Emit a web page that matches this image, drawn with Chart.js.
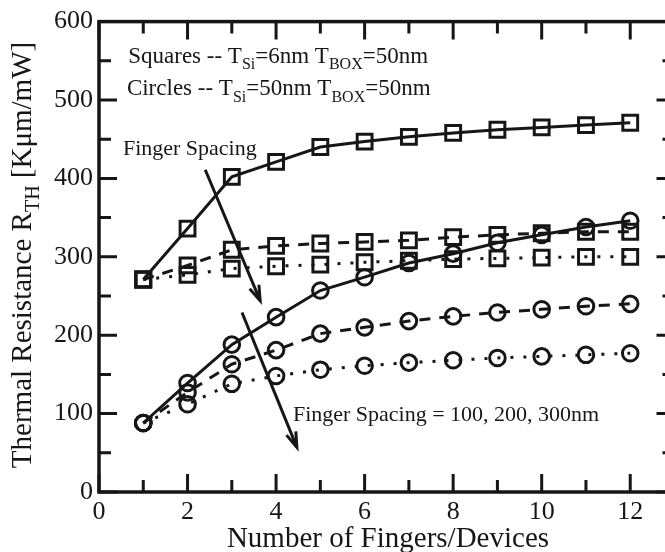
<!DOCTYPE html>
<html>
<head>
<meta charset="utf-8">
<script src="https://cdn.jsdelivr.net/npm/chart.js@4.4.1/dist/chart.umd.min.js"></script>
<style>
  html, body { margin: 0; padding: 0; background: #fff; overflow: hidden; }
  #wrap { width: 665px; height: 552px; overflow: hidden; position: relative; }
  #c { position: absolute; left: 0; top: 0; }
</style>
</head>
<body>
<div id="wrap"><canvas id="c" width="688" height="552"></canvas></div>
<script>
// Number of fingers / devices
const fingers = [1, 2, 3, 4, 5, 6, 7, 8, 9, 10, 11, 12];

// Thermal resistance [K·um/mW], squares: T_Si = 6nm, T_BOX = 50nm
const sq100 = [271, 336, 402, 421, 440, 447, 453, 458, 462, 465, 468, 471];
const sq200 = [271, 289, 309, 314, 317, 319, 321, 325, 328, 330, 332, 332];
const sq300 = [271, 277, 285, 288, 290, 293, 295, 297, 298, 299, 300, 300];

// circles: T_Si = 50nm, T_BOX = 50nm
const ci100 = [88, 139, 188, 223, 257, 274, 292, 304, 318, 328, 338, 346];
const ci200 = [88, 127, 163, 181, 202, 210, 218, 224, 229, 233, 237, 240];
const ci300 = [88, 112, 138, 148, 156, 161, 165, 168, 171, 173, 175, 177];

// axis ticks
const xMajorTicks = [0, 2, 4, 6, 8, 10, 12];
const xMinorTicks = [1, 3, 5, 7, 9, 11, 13];
const yMajorTicks = [0, 100, 200, 300, 400, 500, 600];
const yMinorTicks = [50, 150, 250, 350, 450, 550];

const INK = '#161616';
const SERIF = "'Liberation Serif', 'Times New Roman', serif";

const pts = (ys) => fingers.map((x, i) => ({ x: x, y: ys[i] }));

function series(ys, marker, dash) {
  return {
    data: pts(ys),
    borderColor: INK,
    borderWidth: 3,
    borderDash: dash,
    backgroundColor: 'rgba(0,0,0,0)',
    pointStyle: marker,
    pointRadius: marker === 'rect' ? 10.5 : 7.8,
    pointBorderWidth: 3,
    pointBorderColor: INK,
    pointBackgroundColor: 'rgba(0,0,0,0)',
    tension: 0,
    fill: false
  };
}

// text with subscripts: parts = [[text, isSub], ...]
function drawRich(ctx, parts, x, y, size) {
  let cx = x;
  for (const [txt, sub] of parts) {
    const s = sub ? Math.round(size * 0.7) : size;
    ctx.font = s + 'px ' + SERIF;
    ctx.fillText(txt, cx, sub ? y + size * 0.27 : y);
    cx += ctx.measureText(txt).width;
  }
}

function richWidth(ctx, parts, size) {
  let w = 0;
  for (const [txt, sub] of parts) {
    ctx.font = (sub ? Math.round(size * 0.7) : size) + 'px ' + SERIF;
    w += ctx.measureText(txt).width;
  }
  return w;
}

function arrow(ctx, x1, y1, x2, y2) {
  ctx.beginPath();
  ctx.moveTo(x1, y1);
  ctx.lineTo(x2, y2);
  ctx.stroke();
  const a = Math.atan2(y2 - y1, x2 - x1);
  const L = 16, w = 0.32;
  ctx.beginPath();
  ctx.moveTo(x2 - L * Math.cos(a - w), y2 - L * Math.sin(a - w));
  ctx.lineTo(x2, y2);
  ctx.lineTo(x2 - L * Math.cos(a + w), y2 - L * Math.sin(a + w));
  ctx.stroke();
}

const framePlugin = {
  id: 'frame',
  afterDatasetsDraw(chart) {
    const { ctx, chartArea: a, scales } = chart;
    const xs = scales.x, ys = scales.y;
    ctx.save();
    ctx.strokeStyle = INK;
    ctx.fillStyle = INK;
    ctx.lineCap = 'butt';

    // frame
    ctx.lineWidth = 3.5;
    ctx.strokeRect(a.left, a.top, a.right - a.left, a.bottom - a.top);

    // inward ticks on all four sides
    ctx.lineWidth = 3;
    const tickX = (v, len) => {
      const px = xs.getPixelForValue(v);
      ctx.beginPath();
      ctx.moveTo(px, a.bottom); ctx.lineTo(px, a.bottom - len);
      ctx.moveTo(px, a.top); ctx.lineTo(px, a.top + len);
      ctx.stroke();
    };
    const tickY = (v, len) => {
      const py = ys.getPixelForValue(v);
      ctx.beginPath();
      ctx.moveTo(a.left, py); ctx.lineTo(a.left + len, py);
      ctx.moveTo(a.right, py); ctx.lineTo(a.right - len, py);
      ctx.stroke();
    };
    xMajorTicks.forEach(v => tickX(v, 18));
    xMinorTicks.forEach(v => tickX(v, 12));
    yMajorTicks.forEach(v => tickY(v, 18));
    yMinorTicks.forEach(v => tickY(v, 12));

    // axis titles
    ctx.textBaseline = 'alphabetic';
    ctx.textAlign = 'left';
    ctx.font = '29px ' + SERIF;
    const xt = 'Number of Fingers/Devices';
    const xw = ctx.measureText(xt).width;
    ctx.fillText(xt, 388 - xw / 2, 547);

    ctx.save();
    ctx.translate(31, 0);
    ctx.rotate(-Math.PI / 2);
    const yParts = [['Thermal Resistance R', false], ['TH', true], [' [K\u03bcm/mW]', false]];
    const yw = richWidth(ctx, yParts, 29);
    drawRich(ctx, yParts, -255 - yw / 2, 0, 29);
    ctx.restore();

    // annotations, anchored in data coordinates
    const X = v => xs.getPixelForValue(v);
    const Y = v => ys.getPixelForValue(v);
    drawRich(ctx, [['Squares -- T', false], ['Si', true], ['=6nm T', false], ['BOX', true], ['=50nm', false]], X(0.66), Y(547), 23);
    drawRich(ctx, [['Circles -- T', false], ['Si', true], ['=50nm T', false], ['BOX', true], ['=50nm', false]], X(0.63), Y(506), 23);
    ctx.font = '22px ' + SERIF;
    ctx.fillText('Finger Spacing', X(0.54), Y(430));
    ctx.fillText('Finger Spacing = 100, 200, 300nm', X(4.38), Y(90));

    ctx.lineWidth = 3;
    arrow(ctx, X(2.40), Y(411), X(3.64), Y(244));
    arrow(ctx, X(3.23), Y(229), X(4.47), Y(57));

    ctx.restore();
  }
};

new Chart(document.getElementById('c'), {
  type: 'line',
  data: {
    datasets: [
      series(sq100, 'rect', []),
      series(sq200, 'rect', [11, 9]),
      series(sq300, 'rect', [3, 10]),
      series(ci100, 'circle', []),
      series(ci200, 'circle', [11, 9]),
      series(ci300, 'circle', [3, 10])
    ]
  },
  options: {
    responsive: false,
    animation: false,
    devicePixelRatio: 1,
    layout: { padding: { top: 15, right: 6, left: 0, bottom: 0 } },
    plugins: { legend: { display: false }, tooltip: { enabled: false } },
    scales: {
      x: {
        type: 'linear',
        min: 0, max: 13,
        grid: { display: false, drawTicks: false },
        border: { display: false },
        afterBuildTicks: s => { s.ticks = xMajorTicks.map(v => ({ value: v })); },
        afterFit: s => { s.height = 60; },
        ticks: { color: INK, padding: 5, maxRotation: 0, autoSkip: false, font: { family: SERIF, size: 26 } }
      },
      y: {
        min: 0, max: 600,
        grid: { display: false, drawTicks: false },
        border: { display: false },
        afterBuildTicks: s => { s.ticks = yMajorTicks.map(v => ({ value: v })); },
        afterFit: s => { s.width = 99; },
        ticks: { color: INK, padding: 6, font: { family: SERIF, size: 26 } }
      }
    }
  },
  plugins: [framePlugin]
});
</script>
</body>
</html>
